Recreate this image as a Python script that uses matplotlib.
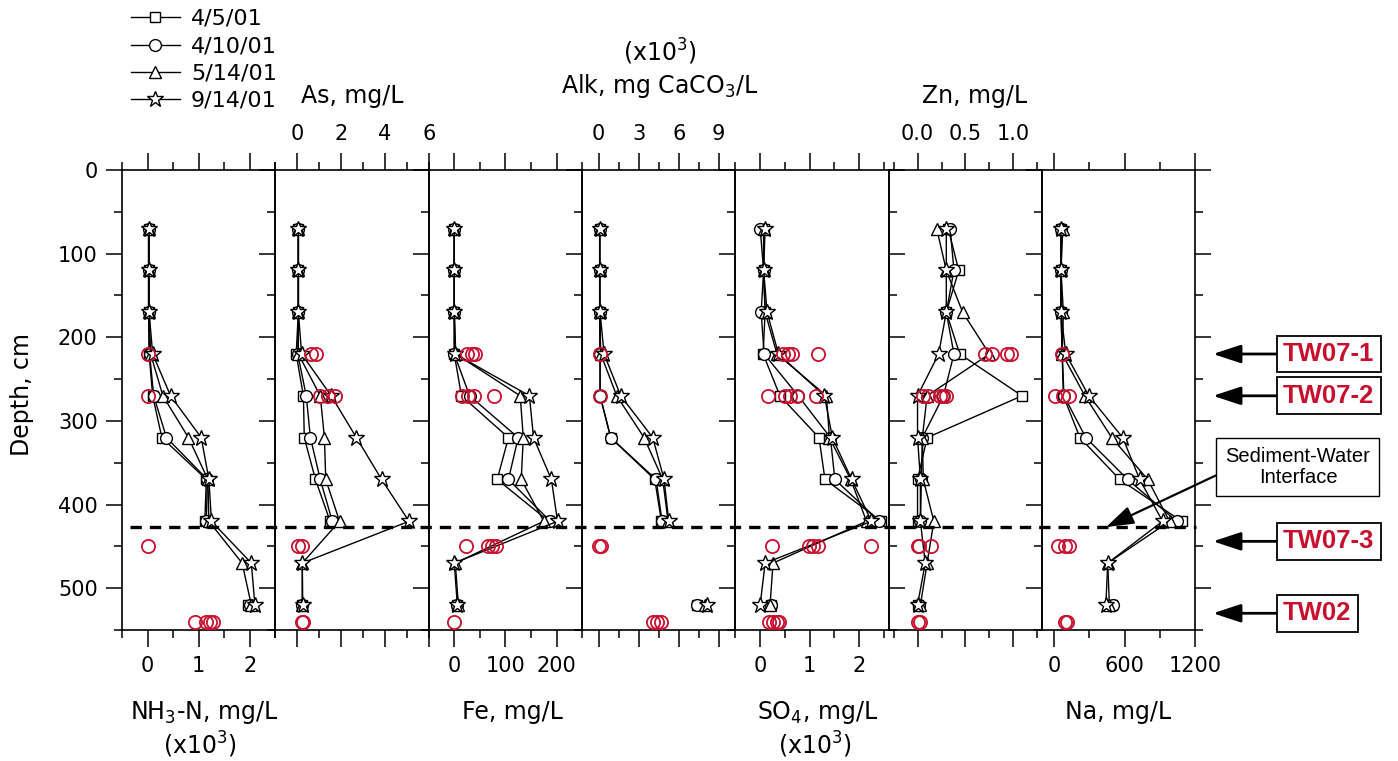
import numpy as np
import matplotlib
matplotlib.use('Agg')
import matplotlib.pyplot as plt
from matplotlib.lines import Line2D
from matplotlib.ticker import MultipleLocator
import matplotlib.transforms as mtransforms

plt.rcParams['font.family'] = 'DejaVu Sans'

nan = np.nan

# sampling depths (cm) and dates
depth = [70, 120, 170, 220, 270, 320, 370, 420, 470, 520]
dates = ['4/5/01', '4/10/01', '5/14/01', '9/14/01']

# NH3-N (x10^3 mg/L)
nh3_0405 = [0.02, 0.02, 0.02, 0.03, 0.10, 0.28, 1.15, 1.12, nan, 1.97]
nh3_0410 = [0.02, 0.02, 0.02, 0.04, 0.12, 0.37, 1.17, 1.15, nan, 2.00]
nh3_0514 = [0.03, 0.03, 0.03, 0.06, 0.30, 0.80, 1.18, 1.20, 1.85, 2.03]
nh3_0914 = [0.03, 0.03, 0.03, 0.10, 0.45, 1.05, 1.20, 1.25, 2.03, 2.10]
nh3_tw_depth = [220, 270, 450, 540, 540, 540, 540]
nh3_tw = [0.0, 0.0, 0.0, 0.92, 1.15, 1.22, 1.28]

# As (mg/L)
as_0405 = [0.05, 0.05, 0.05, -0.05, 0.28, 0.32, 0.83, 1.50, nan, 0.20]
as_0410 = [0.05, 0.05, 0.05, 0.02, 0.41, 0.60, 1.05, 1.60, nan, 0.22]
as_0514 = [0.05, 0.05, 0.05, 0.05, 1.05, 1.24, 1.30, 1.93, 0.23, 0.22]
as_0914 = [0.05, 0.05, 0.05, 0.20, 1.55, 2.70, 3.85, 5.10, 0.23, 0.25]
as_tw_depth = [220, 220, 270, 270, 270, 450, 450, 540, 540]
as_tw = [0.64, 0.87, 1.05, 1.42, 1.74, 0.05, 0.20, 0.20, 0.28]

# Fe (mg/L)
fe_0405 = [0, 0, 0, 0, 14, 106, 84, 185, nan, 6]
fe_0410 = [0, 0, 0, 0, 30, 125, 106, 188, nan, 6]
fe_0514 = [0, 0, 0, 3, 129, 135, 131, 175, 2, 8]
fe_0914 = [0, 0, 0, 2, 147, 155, 190, 202, 0, 6]
fe_tw_depth = [220, 220, 220, 270, 270, 270, 270, 450, 450, 450, 450, 540]
fe_tw = [25, 35, 41, 15, 27, 39, 78, 23, 65, 74, 82, 0]

# Alkalinity (x10^3 mg CaCO3/L)
alk_0405 = [0.07, 0.07, 0.07, 0.10, 0.10, 0.90, 4.20, 4.70, nan, 7.40]
alk_0410 = [0.07, 0.07, 0.07, 0.10, 0.10, 0.90, 4.30, 4.75, nan, 7.40]
alk_0514 = [0.07, 0.07, 0.07, 0.15, 1.35, 3.40, 4.80, 5.20, nan, 8.00]
alk_0914 = [0.07, 0.07, 0.10, 0.40, 1.65, 4.05, 4.90, 5.25, nan, 8.10]
alk_tw_depth = [220, 270, 450, 450, 540, 540, 540]
alk_tw = [0.10, 0.10, 0.05, 0.15, 4.10, 4.35, 4.70]

# SO4 (x10^3 mg/L)
so4_0405 = [0.07, 0.07, 0.10, 0.06, 0.40, 1.19, 1.31, 2.45, nan, 0.22]
so4_0410 = [0.00, 0.07, 0.02, 0.08, 0.77, 1.42, 1.51, 2.41, nan, 0.22]
so4_0514 = [0.07, 0.07, 0.10, 0.34, 1.34, 1.40, 1.83, 2.15, 0.26, 0.20]
so4_0914 = [0.10, 0.07, 0.14, 0.37, 1.30, 1.46, 1.85, 2.25, 0.10, 0.00]
so4_tw_depth = [220, 220, 220, 220, 270, 270, 270, 270, 270,
                450, 450, 450, 450, 450, 540, 540, 540, 540]
so4_tw = [0.47, 0.56, 0.64, 1.17, 0.16, 0.50, 0.60, 0.74, 1.13,
          0.24, 0.99, 1.07, 1.17, 2.25, 0.18, 0.26, 0.34, 0.38]

# Zn (mg/L)
zn_0405 = [0.32, 0.43, 0.30, 0.44, 1.09, 0.10, 0.00, 0.00, nan, 0.00]
zn_0410 = [0.34, 0.38, 0.30, 0.38, 0.27, 0.05, 0.04, 0.03, nan, 0.02]
zn_0514 = [0.20, 0.30, 0.47, 0.75, 0.10, 0.05, 0.06, 0.17, 0.10, 0.03]
zn_0914 = [0.30, 0.30, 0.30, 0.22, 0.00, 0.00, 0.03, 0.03, 0.08, 0.00]
zn_tw_depth = [220, 220, 220, 220, 270, 270, 270, 270, 270, 450, 450, 450, 540, 540]
zn_tw = [0.70, 0.78, 0.93, 0.98, 0.06, 0.11, 0.23, 0.27, 0.30, 0.00, 0.02, 0.14, 0.00, 0.03]

# Na (mg/L)
na_0405 = [60, 60, 60, 70, 80, 220, 558, 1082, nan, 490]
na_0410 = [60, 60, 60, 70, 85, 270, 625, 1040, nan, 500]
na_0514 = [75, 60, 80, 70, 262, 490, 795, 980, 456, 470]
na_0914 = [60, 60, 60, 100, 296, 583, 727, 921, 456, 440]
na_tw_depth = [220, 270, 270, 270, 450, 450, 450, 540, 540]
na_tw = [65, 8, 75, 127, 35, 93, 127, 93, 107]

interface_depth = 427

panels = [
    ([nh3_0405, nh3_0410, nh3_0514, nh3_0914], nh3_tw_depth, nh3_tw,
     (-0.5, 2.5), [0, 1, 2], 0.5, 'bottom'),
    ([as_0405, as_0410, as_0514, as_0914], as_tw_depth, as_tw,
     (-1, 6), [0, 2, 4, 6], 1, 'top'),
    ([fe_0405, fe_0410, fe_0514, fe_0914], fe_tw_depth, fe_tw,
     (-50, 250), [0, 100, 200], 50, 'bottom'),
    ([alk_0405, alk_0410, alk_0514, alk_0914], alk_tw_depth, alk_tw,
     (-1.25, 10.25), [0, 3, 6, 9], 1.5, 'top'),
    ([so4_0405, so4_0410, so4_0514, so4_0914], so4_tw_depth, so4_tw,
     (-0.5, 2.6), [0, 1, 2], 0.5, 'bottom'),
    ([zn_0405, zn_0410, zn_0514, zn_0914], zn_tw_depth, zn_tw,
     (-0.3, 1.3), [0, 0.5, 1.0], 0.25, 'top'),
    ([na_0405, na_0410, na_0514, na_0914], na_tw_depth, na_tw,
     (-100, 1200), [0, 600, 1200], 300, 'bottom'),
]

markers = [('s', 7), ('o', 8.5), ('^', 9), ('*', 12)]
red = '#c8102e'

W, H = 1398, 761
def fx(px):
    return px / W
def fy(py):
    return 1 - py / H

fig = plt.figure(figsize=(W / 100, H / 100), dpi=100)

edges = np.linspace(122, 1195.5, 8)
top_px, bot_px = 170, 630
axes = []
for i, (series, twd, twv, xlim, majors, minor, side) in enumerate(panels):
    ax = fig.add_axes([fx(edges[i]), fy(bot_px), (edges[i + 1] - edges[i]) / W,
                       (bot_px - top_px) / H])
    for vals, (m, ms) in zip(series, markers):
        ax.plot(vals, depth, color='black', lw=1.0, marker=m, ms=ms,
                mfc='white', mec='black', mew=1.0, zorder=3)
    ax.plot(twv, twd, ls='none', marker='o', ms=9.5, mfc='none', mec=red,
            mew=1.3, zorder=4)
    ax.set_xlim(*xlim)
    ax.set_ylim(550, 0)
    ax.set_yticks(range(0, 600, 100))
    ax.yaxis.set_minor_locator(MultipleLocator(50))
    if i == 5:
        ax.set_xticks(majors, ['%.1f' % v for v in majors])
    else:
        ax.set_xticks(majors, [str(v) for v in majors])
    ax.xaxis.set_minor_locator(MultipleLocator(minor))
    ax.tick_params(axis='x', which='both', direction='out', top=True, bottom=True,
                   labeltop=(side == 'top'), labelbottom=(side == 'bottom'),
                   labelsize=15, width=1.1)
    ax.tick_params(axis='x', which='major', length=12, pad=7)
    ax.tick_params(axis='x', which='minor', length=6)
    left_t = i in (0, 1, 2, 3, 4, 6)
    right_t = i in (4, 6)
    ax.tick_params(axis='y', which='both', direction='out', left=left_t,
                   right=right_t, labelleft=(i == 0), labelright=False,
                   labelsize=15, width=1.1)
    ax.tick_params(axis='y', which='major', length=11.5, pad=6)
    ax.tick_params(axis='y', which='minor', length=5.5)
    for sp in ax.spines.values():
        sp.set_linewidth(1.2)
    ax.patch.set_alpha(0)
    axes.append(ax)

# sediment-water interface line across all panels
blend = mtransforms.blended_transform_factory(fig.transFigure, axes[0].transData)
fig.add_artist(Line2D([fx(130), fx(1195.5)], [interface_depth, interface_depth],
                      transform=blend, color='black', lw=2.4,
                      ls=(0, (3.4, 2.4)), zorder=5))

# axis titles
fig.text(fx(22), fy(395), 'Depth, cm', rotation=90, ha='center', va='center', fontsize=17)
fig.text(fx(204), fy(712), 'NH$_3$-N, mg/L', ha='center', va='center', fontsize=17)
fig.text(fx(200), fy(745), '(x10$^3$)', ha='center', va='center', fontsize=17)
fig.text(fx(512), fy(712), 'Fe, mg/L', ha='center', va='center', fontsize=17)
fig.text(fx(818), fy(712), 'SO$_4$, mg/L', ha='center', va='center', fontsize=17)
fig.text(fx(815), fy(745), '(x10$^3$)', ha='center', va='center', fontsize=17)
fig.text(fx(1118), fy(712), 'Na, mg/L', ha='center', va='center', fontsize=17)
fig.text(fx(352), fy(96), 'As, mg/L', ha='center', va='center', fontsize=17)
fig.text(fx(660), fy(52), '(x10$^3$)', ha='center', va='center', fontsize=17)
fig.text(fx(660), fy(86), 'Alk, mg CaCO$_3$/L', ha='center', va='center', fontsize=17)
fig.text(fx(975), fy(96), 'Zn, mg/L', ha='center', va='center', fontsize=17)

# legend
handles = axes[0].lines[:4]
fig.legend(handles, dates, loc='upper left', bbox_to_anchor=(fx(131), fy(9)),
           frameon=False, fontsize=16, handlelength=2.2, handletextpad=0.5,
           labelspacing=0.33, borderpad=0, borderaxespad=0, numpoints=1)

# well annotations on the right
ax_na = axes[-1]
def afrac(px):
    return (px - edges[6]) / (edges[7] - edges[6])

arrow = dict(arrowstyle='-|>,head_length=0.85,head_width=0.28', color='black',
             lw=2.0, shrinkA=0, shrinkB=0, mutation_scale=20)
box = dict(boxstyle='square,pad=0.25', fc='white', ec='black', lw=1.3)
for label, d in [('TW07-1', 220), ('TW07-2', 270), ('TW07-3', 444), ('TW02', 530)]:
    ax_na.annotate(label, xy=(afrac(1213), d), xycoords=('axes fraction', 'data'),
                   xytext=(afrac(1283), d), textcoords=('axes fraction', 'data'),
                   ha='left', va='center', fontsize=18.5, fontweight='bold',
                   family='Liberation Sans', color=red, bbox=box,
                   arrowprops=arrow, annotation_clip=False)

ax_na.annotate('Sediment-Water\nInterface', xy=(afrac(1106), interface_depth),
               xycoords=('axes fraction', 'data'),
               xytext=(afrac(1298), 355), textcoords=('axes fraction', 'data'),
               ha='center', va='center', multialignment='center', fontsize=14.5,
               family='Liberation Sans', linespacing=1.1,
               bbox=dict(boxstyle='square,pad=0.45', fc='white', ec='black', lw=1.0),
               arrowprops=dict(arrowstyle='-|>,head_length=0.85,head_width=0.28',
                               color='black', lw=1.6, shrinkA=0, shrinkB=0,
                               mutation_scale=20, relpos=(0, 0.4)),
               annotation_clip=False)

fig.savefig('out.png', dpi=100)
